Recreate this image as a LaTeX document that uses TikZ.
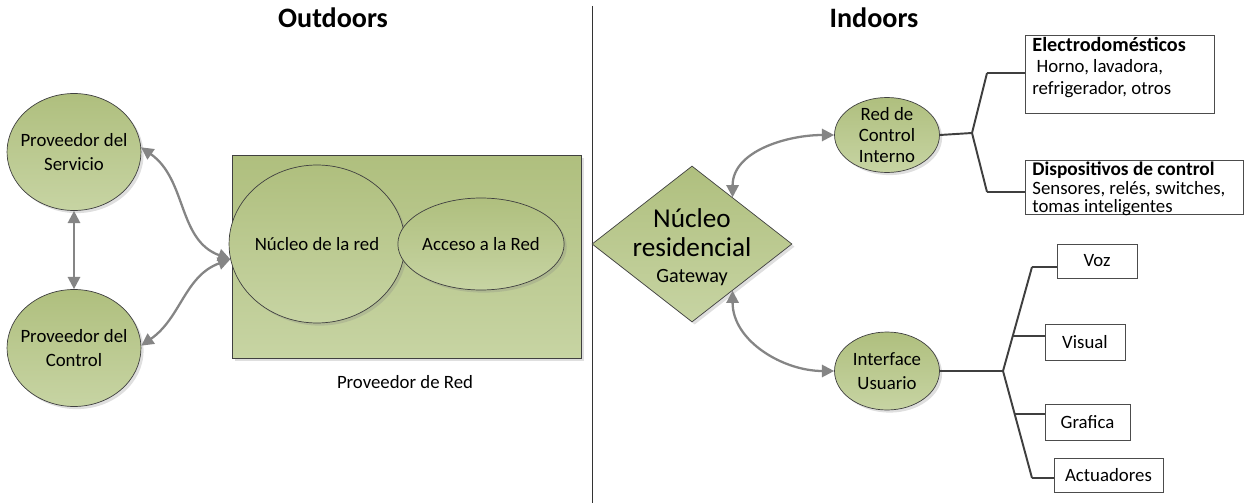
\documentclass[tikz,border=0pt]{standalone}
\usepackage{fontspec}
\setmainfont{Carlito}
\usepackage{tikz}
\usetikzlibrary{arrows.meta, positioning, shapes.geometric, shadows, calc}
\usepackage{xcolor}
\definecolor{olivetop}{HTML}{AFBF7E}
\definecolor{olivebot}{HTML}{C7D4A3}
\definecolor{arrowgray}{HTML}{858585}
\definecolor{treegray}{HTML}{3F3F3F}

\begin{document}
\begin{tikzpicture}[
x=0.02cm, y=-0.02cm,
>={Triangle[length=7pt,width=7pt]},
txt/.style={font=\fontsize{10.7}{13.6}\selectfont, align=center},
olive/.style={draw=black!75, thin, top color=olivetop, bottom color=olivebot,
  drop shadow={opacity=0.25, shadow xshift=1.5pt, shadow yshift=-1.5pt}},
actor/.style={olive, ellipse, txt, inner sep=0pt},
link/.style={<->, arrowgray, line width=1.3pt},
branch/.style={treegray, line width=1.1pt},
leaf/.style={draw=black!70, thin, fill=white, txt, inner sep=0pt},
title/.style={font=\fontsize{16}{18}\selectfont\bfseries},
]
\useasboundingbox (0,0) rectangle (1244,503);

% Outdoors
\node[title] (outT) at (333,18) {Outdoors};
\node[title] (inT) at (874,18) {Indoors};
\draw[black!80, thin] (592,6) -- (592,503);

\node[actor, inner xsep=-3.5pt, minimum width=2.56cm, minimum height=2.34cm] (serv) at (74,152) {Proveedor del\\Servicio};
\node[actor, inner xsep=-3.5pt, minimum width=2.56cm, minimum height=2.34cm] (ctrl) at (74,348) {Proveedor del\\Control};

\node[olive, rectangle, minimum width=6.98cm, minimum height=4.06cm, anchor=north west] (prov) at (232,155) {};
\node[actor, minimum width=3.4cm, minimum height=3.16cm] (core) at (317,244) {N\'ucleo de la red};
\node[actor, minimum width=3.16cm, minimum height=1.84cm] (acc) at (481,244) {Acceso a la Red};
\node[txt] (provT) at (405,382) {Proveedor de Red};

\draw[link] (serv.4) to[out=-35,in=160] (core.190);
\draw[link] (ctrl.2) to[out=35,in=200] (core.190);
\draw[link] (serv.south) -- (ctrl.north);

% Indoors
\node[olive, diamond, minimum width=4cm, minimum height=3.12cm, inner sep=0pt] (gw) at (692,244) {};
\node[align=center, font=\fontsize{15.5}{17}\selectfont] (gwT) at (692,247)
  {N\'ucleo\\[-0.5pt]residencial\\[-2.2pt]{\fontsize{11.5}{13}\selectfont Gateway}};

\node[actor, inner ysep=-3.5pt, minimum width=2.1cm, minimum height=1.5cm, font=\fontsize{10.7}{12}\selectfont] (rci) at (887,135) {Red de\\Control\\Interno};
\node[actor, minimum width=2.1cm, minimum height=1.56cm] (iu) at (887,371) {Interface\\Usuario};

\draw[link] (gw.49) to[out=90,in=180] (rci.west);
\draw[link] (gw.-49) to[out=-90,in=180] (iu.west);

% control devices
\node[leaf, anchor=north west, inner xsep=4pt, inner ysep=1pt] (ebox) at (1025,35)
  {\parbox[c][1.49cm][t]{3.5cm}{\fontsize{10.7}{12.2}\selectfont\raggedright
  {\fontsize{11.5}{12.2}\selectfont\bfseries Electrodom\'esticos}\\
  \ Horno, lavadora,\\refrigerador, otros}};
\node[leaf, anchor=north west, inner xsep=4pt, inner ysep=1pt] (dbox) at (1025,160)
  {\parbox[c][1.01cm][t]{4.08cm}{\fontsize{10.7}{10.6}\selectfont\raggedright
  {\fontsize{11}{10.6}\selectfont\bfseries Dispositivos de control}\\
  Sensores, rel\'es, switches,\\tomas inteligentes}};

\coordinate (jr) at (972,133);
\coordinate (te) at (987,73);
\coordinate (td) at (987,192);
\draw[branch] (rci.east) -- (jr);
\draw[branch] (te) -- (jr) -- (td);
\draw[branch] (te) -- (te -| ebox.west);
\draw[branch] (td) -- (td -| dbox.west);

% user interface
\node[leaf, minimum width=1.6cm, minimum height=0.68cm] (voz) at (1097,261) {Voz};
\node[leaf, minimum width=1.6cm, minimum height=0.72cm] (vis) at (1085,342) {Visual};
\node[leaf, minimum width=1.7cm, minimum height=0.72cm] (graf) at (1087.5,422) {Grafica};
\node[leaf, minimum width=2.18cm, minimum height=0.68cm] (act) at (1108.5,475) {Actuadores};

\coordinate (ju) at (1003,371);
\coordinate (tv) at (1032,267);
\coordinate (ta) at (1032,478);
\draw[branch] (iu.east) -- (ju);
\draw[branch] (tv) -- (ju) -- (ta);
\coordinate (bv) at ($(ju)!0.34!(tv)$);
\coordinate (bg) at ($(ju)!0.40!(ta)$);
\draw[branch] (tv) -- (tv -| voz.west);
\draw[branch] (bv) -- (bv -| vis.west);
\draw[branch] (bg) -- (bg -| graf.west);
\draw[branch] (ta) -- (ta -| act.west);

\end{tikzpicture}
\end{document}
